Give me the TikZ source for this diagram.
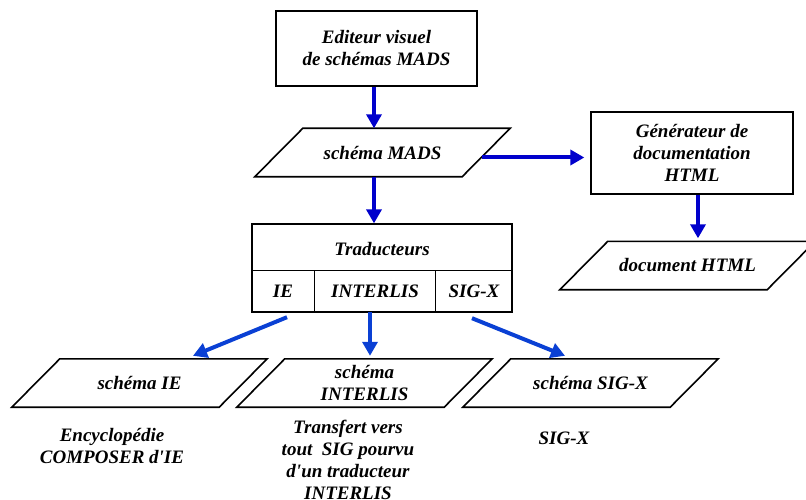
\documentclass[tikz,border=0pt]{standalone}
\usepackage{fontspec}
\setmainfont{Liberation Serif}
\usetikzlibrary{arrows.meta}
\definecolor{flowblue}{RGB}{0,0,204}
\definecolor{linkblue}{RGB}{10,64,212}

\begin{document}
\begin{tikzpicture}[x=1pt, y=-1pt,
        every node/.style={font=\fontsize{19}{22}\selectfont\bfseries\itshape, align=center},
        block/.style={rectangle, draw, line width=1.3pt, inner sep=0pt},
        cell/.style={rectangle, inner sep=0pt, minimum height=41pt},
        data/.style={rectangle, inner sep=0pt, minimum width=207pt, minimum height=48pt},
        slant/.style={line width=1.6pt, line join=miter},
        arrow/.style={-{Triangle[length=14pt, width=15pt]}, line width=4pt, color=flowblue}
    ]
        \useasboundingbox (0,0) rectangle (806,500);

        \node[block, minimum width=201pt, minimum height=75pt] (editeur) at (376.5,48.5) {%
            Editeur visuel\\de schémas MADS};
        \node[data] (mads) at (382.5,152.5) {schéma MADS};
        \node[block, minimum width=202pt, minimum height=82pt] (gen) at (692,153) {%
            Générateur de\\documentation\\HTML};
        \node[data] (doc) at (687.5,265.5) {document HTML};

        % traducteurs
        \node[block, minimum width=260pt, minimum height=88pt] (trad) at (382,268) {};
        \node (tradlabel) at (382,249) {Traducteurs};
        \node[cell, minimum width=62pt] (ie) at (283,291.5) {IE};
        \node[cell, minimum width=122pt] (interlis) at (375,291.5) {INTERLIS};
        \node[cell, minimum width=76pt] (sigx) at (474,291.5) {SIG-X};
        \draw[line width=1.3pt] (ie.north west) -- (sigx.north east);
        \draw[line width=1.3pt] (ie.north east) -- (ie.south east);
        \draw[line width=1.3pt] (sigx.north west) -- (sigx.south west);

        \node[data] (schie) at (139.5,383) {schéma IE};
        \node[data] (schint) at (364.5,383) {schéma\\INTERLIS};
        \node[data] (schsig) at (590.5,383) {schéma SIG-X};

        % parallelograms
        \foreach \n in {mads, doc, schie, schint, schsig}
            \draw[slant] ([xshift=-24pt]\n.south west) -- ([xshift=-24pt]\n.south east)
                -- ([xshift=24pt]\n.north east) -- ([xshift=24pt]\n.north west) -- cycle;

        \node (composer) at (112,446) {Encyclopédie\\COMPOSER d\textquotesingle IE};
        \node (transfert) at (348,460) {Transfert vers\\tout~ SIG pourvu\\d\textquotesingle un traducteur\\INTERLIS};
        \node (sigsys) at (564,438) {SIG-X};

        \draw[arrow] ([xshift=-2.5pt]editeur.south) -- ([xshift=-2.5pt]editeur.south |- mads.north);
        \draw[arrow] ([xshift=-8.5pt]mads.south) -- ([xshift=-8.5pt]mads.south |- trad.north);
        \draw[arrow, shorten >=6pt] ([shift={(-4pt,-5pt)}]mads.east) -- ([yshift=-5pt]mads.east -| gen.west);
        \draw[arrow, shorten >=3pt] ([xshift=6pt]gen.south) -- ([xshift=6pt]gen.south |- doc.north);
        \draw[arrow, linkblue] ([shift={(4pt,-5pt)}]ie.south) -- ([shift={(53.5pt,3pt)}]schie.north);
        \draw[arrow, linkblue, shorten >=3pt] ([xshift=-5pt]interlis.south) -- ([xshift=-5pt]interlis.south |- schint.north);
        \draw[arrow, linkblue] ([shift={(-2pt,-6pt)}]sigx.south) -- ([shift={(-25.5pt,3pt)}]schsig.north);
    \end{tikzpicture}
\end{document}
